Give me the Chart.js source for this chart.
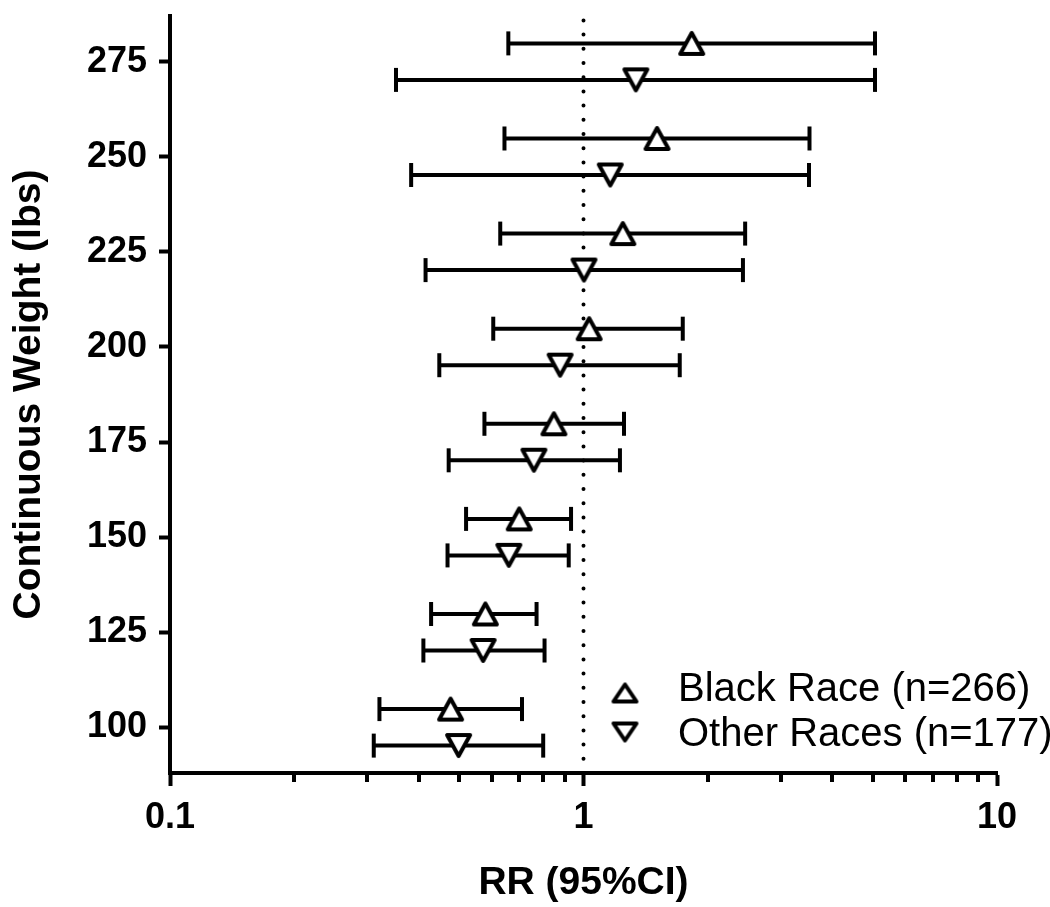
<!DOCTYPE html>
<html>
<head>
<meta charset="utf-8">
<script src="https://cdn.jsdelivr.net/npm/chart.js@4.4.1/dist/chart.umd.min.js"></script>
<style>
  html, body { margin: 0; padding: 0; background: #ffffff; }
  #wrap { width: 1050px; height: 907px; }
</style>
</head>
<body>
<div id="wrap"><canvas id="chart" width="1050" height="907"></canvas></div>
<script>
// ---- data ----
const weights   = [100, 125, 150, 175, 200, 225, 250, 275];
const blackRR   = [0.477, 0.579, 0.699, 0.848, 1.032, 1.245, 1.506, 1.827];
const blackLow  = [0.321, 0.428, 0.520, 0.576, 0.605, 0.629, 0.644, 0.658];
const blackHigh = [0.710, 0.770, 0.933, 1.253, 1.738, 2.46, 3.52, 5.07];
const otherRR   = [0.499, 0.572, 0.660, 0.759, 0.878, 1.003, 1.161, 1.339];
const otherLow  = [0.311, 0.410, 0.469, 0.472, 0.448, 0.415, 0.383, 0.352];
const otherHigh = [0.799, 0.805, 0.921, 1.225, 1.709, 2.43, 3.51, 5.07];
const seriesNames = ['Black Race (n=266)', 'Other Races (n=177)'];
const yTickValues = [100, 125, 150, 175, 200, 225, 250, 275];
const xMajorTicks = [0.1, 1, 10];
const xMinorTicks = [0.2, 0.3, 0.4, 0.5, 0.6, 0.7, 0.8, 0.9, 2, 3, 4, 5, 6, 7, 8, 9];
const referenceRR = 1;
const yAxisMin = 88, yAxisMax = 287;
const xAxisMin = 0.1, xAxisMax = 10;

// ---- presentation ----
const FONT = "'Liberation Sans', Arial, Helvetica, sans-serif";
const INK = '#000000';
const LW = 4;
const ROW_OFFSET = 4.8; // vertical separation of the two series within a weight row

// open triangle marker glyph (outer size w x h, centred on its canvas)
function makeTriangle(w, h, lw) {
  const c = document.createElement('canvas');
  c.width = w + 6; c.height = h + 6;
  const g = c.getContext('2d');
  const cx = c.width / 2, cy = c.height / 2;
  g.lineWidth = lw;
  g.lineJoin = 'round';
  g.strokeStyle = INK;
  g.fillStyle = '#ffffff';
  g.beginPath();
  g.moveTo(cx, cy - h / 2 + lw / 2);
  g.lineTo(cx + (w - lw) / 2, cy + h / 2 - lw / 2);
  g.lineTo(cx - (w - lw) / 2, cy + h / 2 - lw / 2);
  g.closePath();
  g.fill();
  g.stroke();
  return c;
}
const dataTriangle = makeTriangle(27, 25, LW);
const legendTriangle = makeTriangle(27, 21, LW);

function ciDatasets(low, high, sign) {
  return weights.map((w, i) => ({
    data: [{ x: low[i], y: w + sign * ROW_OFFSET }, { x: high[i], y: w + sign * ROW_OFFSET }],
    showLine: true,
    borderColor: INK,
    borderWidth: LW,
    borderCapStyle: 'butt',
    pointStyle: 'line',
    pointRotation: 90,
    pointRadius: 12,
    pointBorderWidth: LW,
    pointBorderColor: INK,
    pointBackgroundColor: INK,
    order: 2
  }));
}

function pointDataset(label, rr, sign, rotation) {
  return {
    label: label,
    data: weights.map((w, i) => ({ x: rr[i], y: w + sign * ROW_OFFSET })),
    showLine: false,
    pointStyle: dataTriangle,
    pointRotation: rotation,
    pointRadius: 14,
    order: 0
  };
}

const refLine = {
  data: [{ x: referenceRR, y: yAxisMin }, { x: referenceRR, y: yAxisMax }],
  showLine: true,
  borderColor: INK,
  borderWidth: 4,
  borderDash: [0, 14.2],
  borderCapStyle: 'round',
  pointRadius: 0,
  order: 3
};

const datasets = [
  pointDataset(seriesNames[0], blackRR, +1, 0),
  pointDataset(seriesNames[1], otherRR, -1, 180),
  ...ciDatasets(blackLow, blackHigh, +1),
  ...ciDatasets(otherLow, otherHigh, -1),
  refLine
];

const minorTickPlugin = {
  id: 'minorTicks',
  afterDraw(chart) {
    const xs = chart.scales.x;
    const ctx = chart.ctx;
    const yb = chart.chartArea.bottom;
    ctx.save();
    ctx.strokeStyle = INK;
    ctx.lineWidth = LW;
    ctx.beginPath();
    xMinorTicks.forEach(v => {
      const px = Math.round(xs.getPixelForValue(v));
      ctx.moveTo(px, yb);
      ctx.lineTo(px, yb + 9);
    });
    ctx.stroke();
    ctx.restore();
  }
};

const legendPlugin = {
  id: 'insideLegend',
  afterDraw(chart) {
    const ctx = chart.ctx;
    const items = [
      { text: seriesNames[0], rotation: 0,   textY: 690, markY: 693 },
      { text: seriesNames[1], rotation: 180, textY: 735, markY: 732 }
    ];
    ctx.save();
    items.forEach(it => {
      Chart.helpers.drawPoint(ctx, { pointStyle: legendTriangle, rotation: it.rotation, radius: 12, borderWidth: 0 }, 625, it.markY);
      ctx.fillStyle = INK;
      ctx.font = '40px ' + FONT;
      ctx.textAlign = 'left';
      ctx.textBaseline = 'middle';
      ctx.fillText(it.text, 678, it.textY);
    });
    ctx.restore();
  }
};

new Chart(document.getElementById('chart'), {
  type: 'scatter',
  data: { datasets: datasets },
  options: {
    responsive: false,
    animation: false,
    events: [],
    devicePixelRatio: 1,
    layout: { padding: { top: 8, right: 53, left: 0, bottom: 0 } },
    plugins: { legend: { display: false }, tooltip: { enabled: false } },
    scales: {
      x: {
        type: 'logarithmic',
        position: 'bottom',
        min: xAxisMin,
        max: xAxisMax,
        afterBuildTicks: s => { s.ticks = xMajorTicks.map(v => ({ value: v, major: true })); },
        afterFit: s => { s.height = 134; s.paddingLeft = 0; s.paddingRight = 0; },
        grid: { drawOnChartArea: false, drawTicks: true, tickLength: 13, tickWidth: LW, tickColor: INK },
        border: { display: true, color: INK, width: LW },
        ticks: {
          padding: 10,
          color: INK,
          font: { family: FONT, size: 36, weight: 'bold' },
          maxRotation: 0,
          autoSkip: false,
          callback: v => (xMajorTicks.includes(v) ? String(v) : '')
        },
        title: {
          display: true,
          text: 'RR (95%CI)',
          color: INK,
          font: { family: FONT, size: 39, weight: 'bold' },
          padding: { top: 0, bottom: 0 }
        }
      },
      y: {
        type: 'linear',
        position: 'left',
        min: yAxisMin,
        max: yAxisMax,
        afterBuildTicks: s => { s.ticks = yTickValues.map(v => ({ value: v })); },
        afterFit: s => { s.width = 170; s.paddingTop = 0; s.paddingBottom = 0; },
        grid: { drawOnChartArea: false, drawTicks: true, tickLength: 11, tickWidth: LW, tickColor: INK },
        border: { display: true, color: INK, width: LW },
        ticks: {
          padding: 12,
          color: INK,
          font: { family: FONT, size: 36, weight: 'bold' },
          autoSkip: false
        },
        title: {
          display: true,
          text: 'Continuous Weight (lbs)',
          color: INK,
          font: { family: FONT, size: 39, weight: 'bold' },
          padding: { top: 6, bottom: 0 }
        }
      }
    }
  },
  plugins: [minorTickPlugin, legendPlugin]
});
</script>
</body>
</html>
